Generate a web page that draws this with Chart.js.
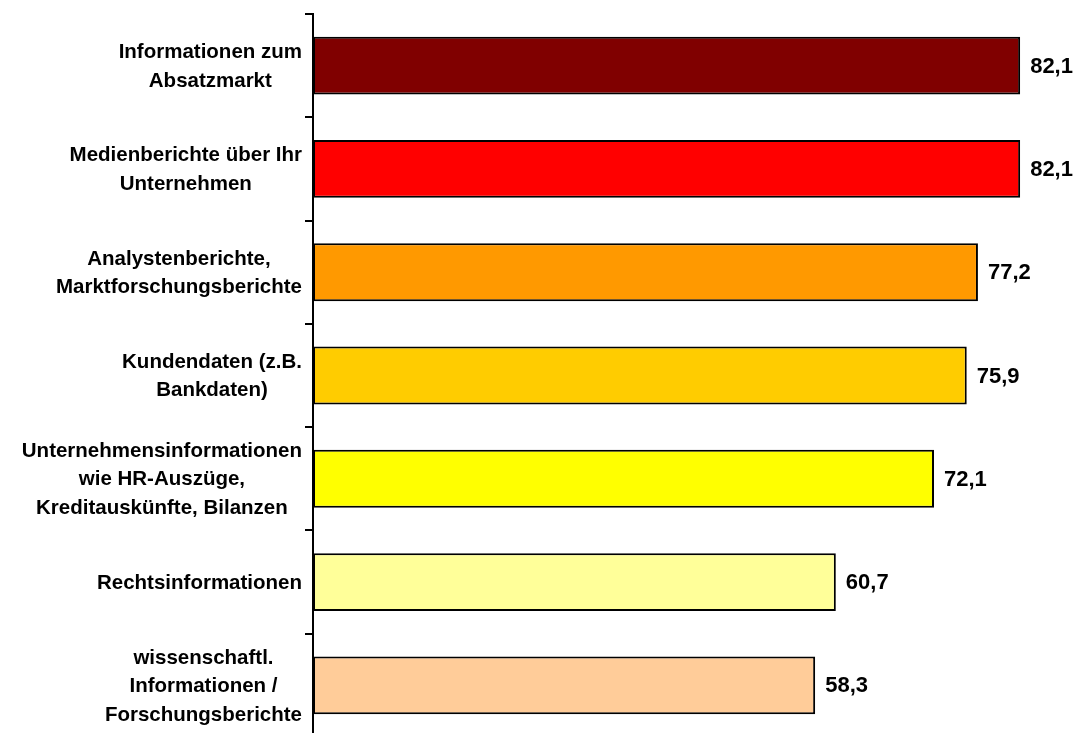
<!DOCTYPE html>
<html>
<head>
<meta charset="utf-8">
<script src="https://cdn.jsdelivr.net/npm/chart.js@4/dist/chart.umd.min.js"></script>
<style>
  html, body { margin: 0; padding: 0; background: #fff; overflow: hidden; }
  #wrap { position: relative; width: 1077px; height: 737px; }
</style>
</head>
<body>
<div id="wrap"><canvas id="ChartInfo"></canvas></div>
<script>
// Kategorien (mehrzeilig) und Werte in Prozent
const Kategorien = [
    ["Informationen zum", "Absatzmarkt"],
    ["Medienberichte über Ihr", "Unternehmen"],
    ["Analystenberichte,", "Marktforschungsberichte"],
    ["Kundendaten (z.B.", "Bankdaten)"],
    ["Unternehmensinformationen", "wie HR-Auszüge,", "Kreditauskünfte, Bilanzen"],
    ["Rechtsinformationen"],
    ["wissenschaftl.", "Informationen /", "Forschungsberichte"]
]
const Werte = [82.1, 82.1, 77.2, 75.9, 72.1, 60.7, 58.3]
const Farben = ["#800000", "#FF0000", "#FF9900", "#FFCC00", "#FFFF00", "#FFFF99", "#FFCC99"]

const SCHRIFT = "'Liberation Sans', Arial, sans-serif"
const ChartInfo = document.getElementById("ChartInfo")

// Beschriftung links: Block rechtsbündig, Zeilen darin zentriert
const kategorieText = {
    id: "kategorieText",
    afterDraw(chart) {
        const ctx = chart.ctx
        const y = chart.scales.y
        ctx.save()
        ctx.font = "bold 20.5px " + SCHRIFT
        ctx.fillStyle = "#000"
        ctx.textAlign = "center"
        ctx.textBaseline = "middle"
        const zeilenAbstand = 28.5
        Kategorien.forEach((zeilen, i) => {
            const breite = Math.max(...zeilen.map(z => ctx.measureText(z).width))
            const mitteX = 302 - breite / 2
            const mitteY = y.getPixelForValue(i) + 1
            zeilen.forEach((z, j) => {
                const dy = (j - (zeilen.length - 1) / 2) * zeilenAbstand
                ctx.fillText(z, mitteX, mitteY + dy)
            })
        })
        ctx.restore()
    }
}

// Werte rechts neben den Balken, mit Dezimalkomma
const wertText = {
    id: "wertText",
    afterDatasetsDraw(chart) {
        const ctx = chart.ctx
        const meta = chart.getDatasetMeta(0)
        ctx.save()
        ctx.font = "bold 22px " + SCHRIFT
        ctx.fillStyle = "#000"
        ctx.textAlign = "left"
        ctx.textBaseline = "middle"
        meta.data.forEach((bar, i) => {
            ctx.fillText(Werte[i].toFixed(1).replace(".", ","), bar.x + 10, bar.y + 1)
        })
        ctx.restore()
    }
}

new Chart(ChartInfo, {
    type: "bar",
    data: {
        labels: Kategorien,
        datasets: [{
            data: Werte,
            backgroundColor: Farben,
            borderColor: "#000",
            borderWidth: 2,
            borderSkipped: false,
            categoryPercentage: 1,
            barPercentage: 0.56
        }]
    },
    options: {
        indexAxis: "y",
        responsive: true,
        maintainAspectRatio: false,
        animation: false,
        layout: { padding: { top: 14, right: 0, bottom: 0, left: 0 } },
        plugins: {
            legend: { display: false },
            tooltip: { enabled: false }
        },
        scales: {
            x: {
                display: false,
                min: 0,
                max: 88.7
            },
            y: {
                offset: true,
                afterFit(scale) { scale.width = 313 },
                ticks: { display: false },
                grid: {
                    offset: true,
                    drawOnChartArea: false,
                    drawTicks: true,
                    tickLength: 8,
                    color: "#000",
                    lineWidth: 2
                },
                border: { display: true, color: "#000", width: 2 }
            }
        }
    },
    plugins: [kategorieText, wertText]
})
</script>
</body>
</html>
